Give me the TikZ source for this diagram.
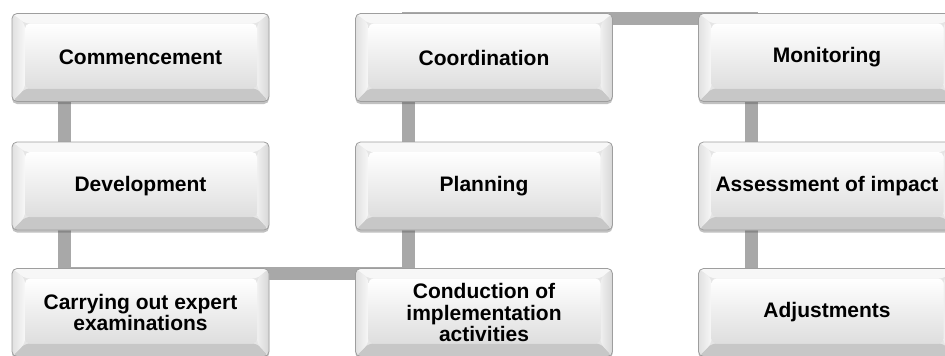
\documentclass[tikz,border=0pt]{standalone}
\usepackage{fontspec}
\setmainfont{Liberation Sans}
\usetikzlibrary{shadows,backgrounds}
\definecolor{barc}{HTML}{A8A8A8}
\definecolor{edgec}{HTML}{9E9E9E}
\tikzset{
  bevelbox/.style={
    rounded corners=5pt, minimum width=257pt, minimum height=88pt, inner sep=0pt,
    align=center, font=\fontsize{21}{21.5}\selectfont\bfseries, text=black,
    draw=edgec, line width=0.8pt, fill=black!10,
    drop shadow={shadow xshift=0pt, shadow yshift=-2.5pt, opacity=0.35, fill=black!70},
    path picture={
      \coordinate (pnw) at (path picture bounding box.north west);
      \coordinate (pne) at (path picture bounding box.north east);
      \coordinate (psw) at (path picture bounding box.south west);
      \coordinate (pse) at (path picture bounding box.south east);
      \fill[black!3] (pnw) -- (pne) -- ([shift={(-12pt,-10pt)}]pne) -- ([shift={(13pt,-10pt)}]pnw) -- cycle;
      \fill[black!22] (psw) -- (pse) -- ([shift={(-12pt,13pt)}]pse) -- ([shift={(13pt,13pt)}]psw) -- cycle;
      \shade[left color=black!12, right color=black!3] (pnw) -- ([shift={(13pt,-10pt)}]pnw) -- ([shift={(13pt,13pt)}]psw) -- (psw) -- cycle;
      \shade[left color=black!6, right color=black!16] (pne) -- ([shift={(-12pt,-10pt)}]pne) -- ([shift={(-12pt,13pt)}]pse) -- (pse) -- cycle;
      \shade[top color=white, bottom color=black!13] ([shift={(13pt,-10pt)}]pnw) rectangle ([shift={(-12pt,13pt)}]pse);
    }},
  link/.style={line width=13pt, draw=barc, line cap=rect},
}
\begin{document}
\begin{tikzpicture}[x=1pt,y=1pt]
\useasboundingbox (0,0) rectangle (945,-356);
\clip (0,0) rectangle (945,-356);
\node[bevelbox] (n1) at (140.5,-57.5) {Commencement};
\node[bevelbox] (n2) at (140.5,-186) {Development};
\node[bevelbox] (n3) at (140.5,-312.5) {Carrying out expert\\examinations};
\node[bevelbox] (n4) at (484,-312.5) {Conduction of\\implementation\\activities};
\node[bevelbox] (n5) at (484,-186) {Planning};
\node[bevelbox] (n6) at (484,-57.5) {Coordination};
\node[bevelbox] (n7) at (827,-57.5) {Monitoring};
\node[bevelbox] (n8) at (827,-186) {Assessment of impact};
\node[bevelbox] (n9) at (827,-312.5) {Adjustments};
\begin{pgfonlayer}{background}
\draw[link] ([xshift=-76pt]n1.center) -- ([xshift=-76pt]n2.center);
\draw[link] ([xshift=-76pt]n2.center) -- ([xshift=-76pt,yshift=-5pt]n3.north);
\draw[link] ([xshift=-76pt,yshift=-5pt]n3.north) -- ([xshift=-76pt,yshift=-5pt]n4.north);
\draw[link] ([xshift=-76pt,yshift=-5pt]n4.north) -- ([xshift=-76pt]n5.center);
\draw[link] ([xshift=-76pt]n5.center) -- ([xshift=-76pt,yshift=-5pt]n6.north);
\draw[link] ([xshift=-76pt,yshift=-5pt]n6.north) -- ([xshift=-76pt,yshift=-5pt]n7.north);
\draw[link] ([xshift=-76pt,yshift=-5pt]n7.north) -- ([xshift=-76pt]n8.center);
\draw[link] ([xshift=-76pt]n8.center) -- ([xshift=-76pt]n9.center);
\end{pgfonlayer}
\end{tikzpicture}
\end{document}
